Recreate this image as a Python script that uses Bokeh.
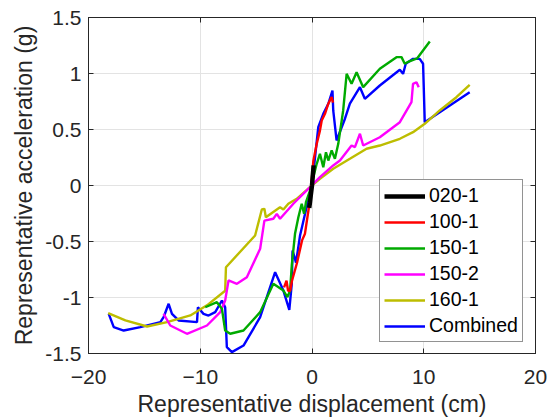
from bokeh.plotting import figure
from bokeh.models import Range1d, LinearAxis, Legend, LegendItem, FixedTicker, CustomJSTickFormatter
from bokeh.embed import file_html
from bokeh.resources import INLINE

# ---- data (displacement cm, acceleration g) ----
x_020_1 = [-0.25, -0.18, -0.1, 0.0, 0.08, 0.15]
y_020_1 = [-0.20, -0.15, -0.08, 0.0, 0.10, 0.18]

x_100_1 = [-2.5, -2.28, -2.14, -1.96, -1.79, -1.34, -0.89, -0.63, -0.36, -0.18, 0.12, 0.42, 0.71, 0.87, 1.16, 1.46, 1.76, 1.88]
y_100_1 = [-0.91, -0.85, -0.94, -0.94, -0.85, -0.69, -0.49, -0.43, -0.25, -0.13, 0.22, 0.37, 0.49, 0.58, 0.64, 0.73, 0.79, 0.74]

x_150_1 = [-9.55, -8.51, -8.06, -7.77, -7.32, -6.13, -4.64, -3.46, -2.56, -2.2, -1.96, -1.81, -1.52, -1.22, -0.92, -0.71, -0.54, -0.18,
           0.42, 0.71, 1.01, 1.25, 1.46, 1.76, 2.05, 2.35, 2.79, 3.1, 3.54, 3.99, 4.58, 6.07, 7.56, 8.01, 8.3, 8.66, 9.4, 10.54]
y_150_1 = [-1.087, -1.042, -1.101, -1.295, -1.324, -1.295, -1.131, -0.878, -0.938, -0.997, -0.938, -0.714, -0.431, -0.283, -0.163, -0.253, -0.149, -0.045,
           0.194, 0.283, 0.163, 0.297, 0.223, 0.313, 0.238, 0.372, 0.67, 0.997, 0.908, 1.012, 0.878, 1.042, 1.146, 1.146, 1.087, 1.107, 1.134, 1.286]

x_150_2 = [-13.28, -12.68, -11.19, -9.4, -8.21, -7.77, -7.47, -6.72, -5.83, -4.64, -4.26, -3.46, -3.15, -2.86, -1.67, -0.18,
           0.71, 1.9, 2.5, 3.54, 3.84, 4.29, 4.58, 6.07, 7.86, 8.9, 9.04, 9.35, 9.55]
y_150_2 = [-1.146, -1.25, -1.324, -1.25, -1.131, -1.027, -0.848, -0.878, -0.819, -0.565, -0.313, -0.297, -0.253, -0.297, -0.163, -0.015,
           0.074, 0.179, 0.223, 0.357, 0.342, 0.462, 0.357, 0.431, 0.565, 0.744, 0.908, 0.922, 0.878]

x_160_1 = [-18.24, -16.7, -14.76, -12.97, -10.89, -9.4, -7.77, -7.7, -5.09, -4.49, -4.26, -4.13, -2.86, -2.56, -2.12, -1.37, -0.18,
           0.71, 1.9, 3.39, 4.88, 6.07, 7.86, 9.04, 10.09, 11.43, 12.92, 14.11]
y_160_1 = [-1.14, -1.205, -1.259, -1.22, -1.16, -1.07, -0.94, -0.73, -0.446, -0.214, -0.208, -0.283, -0.194, -0.214, -0.163, -0.119, -0.015,
           0.06, 0.149, 0.238, 0.328, 0.357, 0.417, 0.476, 0.551, 0.67, 0.788, 0.899]

x_comb = [-18.19, -17.74, -16.85, -15.36, -13.57, -13.28, -12.83, -12.53, -11.94, -10.29, -10.21, -9.71, -9.26, -8.66, -8.06, -7.77,
          -7.62, -7.17, -6.13, -4.64, -3.3, -2.56, -2.03, -1.81, -1.74, -1.43, -1.07, -0.8, -0.45, 0.0,
          0.56, 1.01, 1.46, 1.83, 1.9, 2.2, 2.95, 3.39, 4.29, 4.73, 6.07, 7.86, 8.15, 8.39, 9.04, 9.64, 9.94, 10.09, 14.11]
y_comb = [-1.146, -1.265, -1.295, -1.265, -1.22, -1.176, -1.056, -1.146, -1.205, -1.22, -1.087, -1.146, -1.161, -1.131, -1.027, -1.087,
          -1.444, -1.488, -1.429, -1.176, -0.774, -0.938, -1.11, -0.878, -0.58, -0.688, -0.446, -0.33, -0.179, 0.0,
          0.52, 0.64, 0.73, 0.848, 0.67, 0.402, 0.596, 0.73, 0.878, 0.774, 0.893, 1.033, 0.997, 1.087, 1.131, 1.131, 1.087, 0.565, 0.833]

x_ticks = [-20, -10, 0, 10, 20]
y_ticks = [-1.5, -1, -0.5, 0, 0.5, 1, 1.5]
y_tick_labels = {-1.5: "-1.5", -1: "-1", -0.5: "-0.5", 0: "0", 0.5: "0.5", 1: "1", 1.5: "1.5"}

FONT = "Liberation Sans"
TXT = "#262626"

p = figure(frame_width=447, frame_height=336, output_backend="svg", toolbar_location=None,
           x_range=Range1d(-20, 20), y_range=Range1d(-1.5, 1.5),
           min_border_left=88, min_border_right=12, min_border_top=17, min_border_bottom=40)
p.outline_line_color = TXT
p.outline_line_width = 1
p.background_fill_color = "white"
p.border_fill_color = "white"

for ax, ticks in ((p.xaxis[0], x_ticks), (p.yaxis[0], y_ticks)):
    ax.ticker = FixedTicker(ticks=ticks)
    ax.major_tick_in = 5
    ax.major_tick_out = 0
    ax.minor_tick_line_color = None
    ax.axis_line_color = TXT
    ax.major_tick_line_color = TXT
    ax.major_label_text_font = FONT
    ax.major_label_text_font_size = "21px"
    ax.major_label_text_color = TXT
    ax.axis_label_text_font = FONT
    ax.axis_label_text_font_size = "23px"
    ax.axis_label_text_font_style = "normal"
    ax.axis_label_text_color = TXT
p.yaxis[0].major_label_overrides = y_tick_labels
p.xaxis[0].axis_label = "Representative displacement (cm)"
p.yaxis[0].axis_label = "Representative acceleration (g)"
p.xaxis[0].major_label_standoff = 16
p.yaxis[0].major_label_standoff = 7
p.xaxis[0].axis_label_standoff = 4
p.yaxis[0].axis_label_standoff = 5

for loc, ticks in (("above", x_ticks), ("right", y_ticks)):
    ax = LinearAxis(ticker=FixedTicker(ticks=ticks), major_tick_in=5, major_tick_out=0,
                    minor_tick_line_color=None, axis_line_color=TXT, major_tick_line_color=TXT,
                    formatter=CustomJSTickFormatter(code="return ''"), major_label_standoff=0)
    p.add_layout(ax, loc)

p.grid.grid_line_color = "#e3e3e3"
p.xgrid.ticker = FixedTicker(ticks=x_ticks)
p.ygrid.ticker = FixedTicker(ticks=y_ticks)

LW = 2.4
r_comb = p.line(x_comb, y_comb, color="#0000FF", line_width=LW)
r_160 = p.line(x_160_1, y_160_1, color="#BDBD00", line_width=LW)
r_1502 = p.line(x_150_2, y_150_2, color="#FF00FF", line_width=LW)
r_1501 = p.line(x_150_1, y_150_1, color="#00AA00", line_width=LW)
r_100 = p.line(x_100_1, y_100_1, color="#FF0000", line_width=LW)
r_020 = p.line(x_020_1, y_020_1, color="#000000", line_width=4.5)

legend = Legend(items=[
    LegendItem(label="020-1", renderers=[r_020]),
    LegendItem(label="100-1", renderers=[r_100]),
    LegendItem(label="150-1", renderers=[r_1501]),
    LegendItem(label="150-2", renderers=[r_1502]),
    LegendItem(label="160-1", renderers=[r_160]),
    LegendItem(label="Combined", renderers=[r_comb]),
], location=(291, 11))
legend.label_text_font = FONT
legend.label_text_font_size = "19.5px"
legend.label_text_color = "black"
legend.border_line_color = TXT
legend.border_line_width = 1
legend.background_fill_alpha = 1
legend.glyph_width = 41
legend.glyph_height = 20
legend.label_height = 20
legend.spacing = 3
legend.padding = 4
legend.margin = 0
legend.label_standoff = 4
p.add_layout(legend, "center")

open("out.html", "w").write(file_html(p, INLINE))
